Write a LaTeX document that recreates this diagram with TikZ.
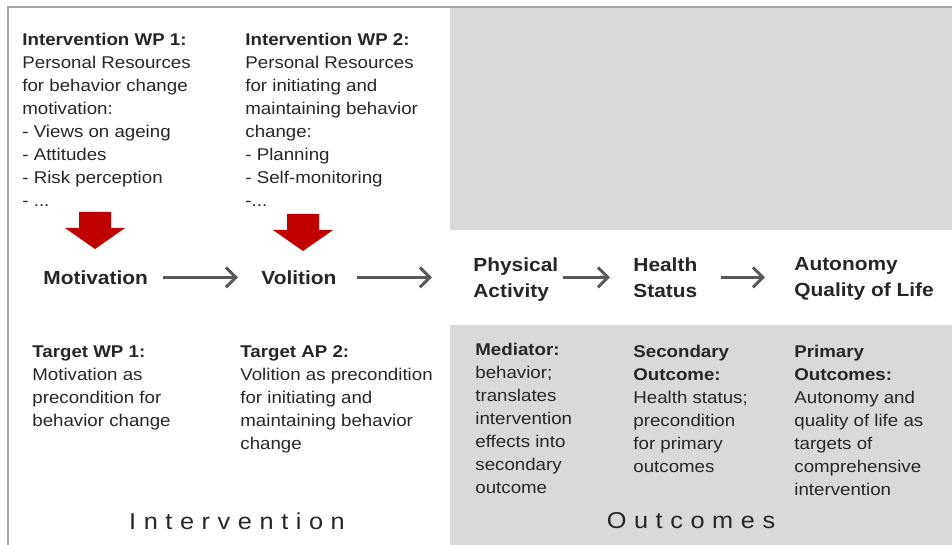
\documentclass[tikz,border=0pt]{standalone}
\usepackage{fontspec}
\setmainfont[FakeStretch=1.1]{Liberation Sans}
\newfontfamily\spacedfont[FakeStretch=1.1,LetterSpace=33]{Liberation Sans}
\usetikzlibrary{arrows.meta}
\definecolor{panel}{HTML}{D9D9D9}
\definecolor{ink}{HTML}{262626}
\definecolor{blockred}{HTML}{C00000}
\tikzset{
  txt/.style={anchor=north west,inner sep=0pt,align=left,text=ink,font=\fontsize{8.5}{11.5}\selectfont},
  key/.style={anchor=north west,inner sep=0pt,align=left,text=ink,font=\fontsize{9.5}{13}\selectfont\bfseries},
  area/.style={inner sep=0pt,text=ink,font=\fontsize{11.5}{14}\spacedfont},
  flow/.style={draw=black!65,line width=1.5pt,-{Straight Barb[length=5pt,width=10pt]}}
}
\begin{document}
\begin{tikzpicture}[x=0.5pt,y=-0.5pt]
\useasboundingbox (0,0) rectangle (952,545);
\fill[panel] (450,8) rectangle (952,230);
\fill[panel] (450,325) rectangle (952,545);
\draw[black!35,line width=1pt] (8,545) -- (8,7) -- (952,7);

\node[txt] (wp1) at (22,33) {\textbf{Intervention WP 1:}\\Personal Resources\\for behavior change\\motivation:\\- Views on ageing\\- Attitudes\\- Risk perception\\- ...};
\node[txt] (wp2) at (245,33) {\textbf{Intervention WP 2:}\\Personal Resources\\for initiating and\\maintaining behavior\\change:\\- Planning\\- Self-monitoring\\-...};

\foreach \c/\t in {95/212,303/214}
  \fill[blockred] (\c-16,\t) -- (\c+16,\t) -- (\c+16,\t+16) -- (\c+30,\t+16) -- (\c,\t+37) -- (\c-30,\t+16) -- (\c-16,\t+16) -- cycle;

\node[key] (mot) at (43,270) {Motivation};
\node[key] (vol) at (261,270) {Volition};
\node[key] (pa) at (473,257) {Physical\\Activity};
\node[key] (hs) at (633,257) {Health\\Status};
\node[key] (aq) at (794,257) {Autonomy\\Quality of Life};

\draw[flow,shorten <=7.5pt,shorten >=11.5pt] (mot.east) -- (vol.west);
\draw[flow,shorten <=10pt,shorten >=20.5pt] (vol.east) -- (pa.west |- vol.east);
\draw[flow,shorten <=2pt,shorten >=11.5pt] (pa.east |- vol.east) -- (hs.west |- vol.east);
\draw[flow,shorten <=11.5pt,shorten >=14.5pt] (hs.east |- vol.east) -- (aq.west |- vol.east);

\node[txt] (t1) at (32,345) {\textbf{Target WP 1:}\\Motivation as\\precondition for\\behavior change};
\node[txt] (t2) at (240,345) {\textbf{Target AP 2:}\\Volition as precondition\\for initiating and\\maintaining behavior\\change};
\node[txt] (med) at (475,343) {\textbf{Mediator:}\\behavior;\\translates\\intervention\\effects into\\secondary\\outcome};
\node[txt] (sec) at (633,345) {\textbf{Secondary}\\\textbf{Outcome:}\\Health status;\\precondition\\for primary\\outcomes};
\node[txt] (prim) at (794,345) {\textbf{Primary}\\\textbf{Outcomes:}\\Autonomy and\\quality of life as\\targets of\\comprehensive\\intervention};

\node[area] (lint) at (237,521) {Intervention};
\node[area] (lout) at (691,521) {Outcomes};
\end{tikzpicture}
\end{document}
